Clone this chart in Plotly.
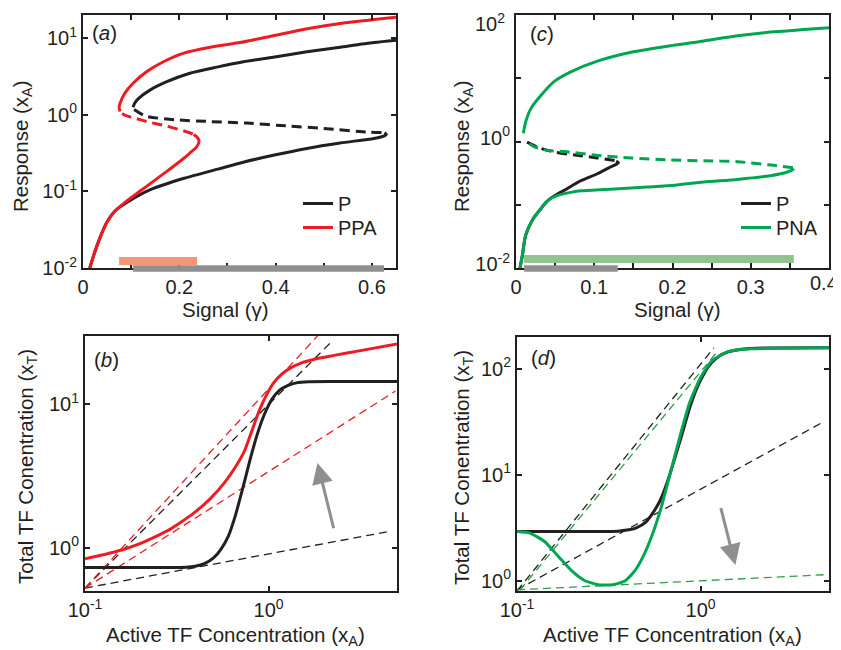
import plotly.graph_objects as go

# ---------------- Panel (a): Response vs Signal, P and PPA ----------------
a_P_lo_x = [0.014, 0.024, 0.035, 0.049, 0.066, 0.090, 0.140, 0.210, 0.280, 0.333, 0.395, 0.465, 0.534, 0.604, 0.626, 0.630, 0.626]
a_P_lo_y = [0.0100, 0.0158, 0.0245, 0.0389, 0.0550, 0.0708, 0.105, 0.148, 0.195, 0.240, 0.295, 0.363, 0.427, 0.490, 0.530, 0.556, 0.580]
a_P_mid_x = [0.620, 0.590, 0.500, 0.430, 0.340, 0.264, 0.190, 0.130, 0.105]
a_P_mid_y = [0.585, 0.594, 0.661, 0.708, 0.776, 0.813, 0.860, 0.960, 1.180]
a_P_hi_x = [0.104, 0.107, 0.115, 0.139, 0.174, 0.222, 0.278, 0.333, 0.395, 0.465, 0.534, 0.604, 0.650]
a_P_hi_y = [1.25, 1.40, 1.62, 2.09, 2.69, 3.47, 4.17, 4.90, 5.62, 6.61, 7.59, 8.71, 9.33]

a_PPA_lo_x = [0.014, 0.024, 0.035, 0.049, 0.066, 0.090, 0.118, 0.146, 0.174, 0.201, 0.222, 0.236, 0.241, 0.238, 0.230]
a_PPA_lo_y = [0.0100, 0.0158, 0.0245, 0.0389, 0.0550, 0.0741, 0.100, 0.135, 0.182, 0.245, 0.316, 0.380, 0.447, 0.500, 0.550]
a_PPA_mid_x = [0.228, 0.208, 0.174, 0.139, 0.104, 0.088, 0.080]
a_PPA_mid_y = [0.560, 0.617, 0.708, 0.794, 0.912, 0.980, 1.050]
a_PPA_hi_x = [0.077, 0.075, 0.077, 0.087, 0.104, 0.132, 0.167, 0.208, 0.264, 0.326, 0.395, 0.465, 0.534, 0.604, 0.650]
a_PPA_hi_y = [1.10, 1.25, 1.41, 1.91, 2.57, 3.63, 4.90, 6.31, 7.59, 8.71, 10.7, 13.2, 15.5, 17.4, 18.6]

a_bistable_PPA = [0.075, 0.237]
a_bistable_P = [0.104, 0.625]

# ---------------- Panel (c): Response vs Signal, P and PNA ----------------
c_P_lo_x = [0.0051, 0.0081, 0.0124, 0.021, 0.032, 0.038, 0.044, 0.053, 0.062, 0.083, 0.104, 0.121, 0.128, 0.131, 0.128]
c_P_lo_y = [0.0100, 0.0158, 0.0331, 0.0575, 0.0871, 0.108, 0.126, 0.148, 0.170, 0.240, 0.309, 0.398, 0.435, 0.460, 0.490]
c_P_mid_x = [0.126, 0.104, 0.080, 0.050, 0.030, 0.014]
c_P_mid_y = [0.500, 0.550, 0.600, 0.680, 0.790, 0.977]

c_PNA_lo_x = [0.0051, 0.0081, 0.0124, 0.021, 0.032, 0.038, 0.044, 0.050, 0.058, 0.070, 0.083, 0.126, 0.168, 0.203, 0.240, 0.283, 0.325, 0.345, 0.353, 0.355]
c_PNA_lo_y = [0.0100, 0.0158, 0.0331, 0.0575, 0.0871, 0.108, 0.124, 0.136, 0.146, 0.157, 0.166, 0.178, 0.191, 0.204, 0.229, 0.251, 0.288, 0.324, 0.355, 0.375]
c_PNA_mid_x = [0.354, 0.326, 0.283, 0.240, 0.198, 0.147, 0.104, 0.062, 0.040, 0.023, 0.014]
c_PNA_mid_y = [0.384, 0.424, 0.479, 0.496, 0.508, 0.550, 0.603, 0.692, 0.724, 0.832, 0.977]
c_PNA_hi_x = [0.0094, 0.0124, 0.019, 0.032, 0.049, 0.070, 0.104, 0.147, 0.200, 0.240, 0.283, 0.325, 0.368, 0.400]
c_PNA_hi_y = [1.35, 2.04, 3.31, 5.37, 8.91, 12.6, 18.6, 25.7, 33.1, 38.9, 46.8, 53.7, 58.9, 63.1]

c_bistable_PNA = [0.0103, 0.355]
c_bistable_P = [0.0103, 0.130]

# ---------------- Panel (b): Total vs Active TF, P and PPA ----------------
b_P_x = [0.1, 0.2512, 0.3548, 0.3981, 0.4467, 0.5012, 0.5495, 0.6026, 0.6607, 0.7244, 0.7943, 0.8710, 0.9550, 1.0471, 1.1482, 1.2589, 1.4125, 1.6596, 2.2387, 5.0]
b_P_y = [0.7278, 0.7278, 0.7328, 0.7447, 0.7762, 0.8511, 0.9772, 1.2023, 1.6982, 2.6303, 4.1687, 6.3096, 8.7096, 10.965, 12.589, 13.490, 14.125, 14.388, 14.421, 14.421]
b_PPA_x = [0.1, 0.1413, 0.1995, 0.2818, 0.3802, 0.4786, 0.5754, 0.6607, 0.7413, 0.8128, 0.8913, 0.9772, 1.0715, 1.1749, 1.3183, 1.5136, 1.7783, 2.2387, 3.1623, 5.0]
b_PPA_y = [0.8395, 0.9268, 1.0715, 1.3183, 1.6982, 2.1878, 2.8510, 3.6728, 4.7863, 6.6069, 9.1201, 11.749, 14.289, 16.218, 17.989, 19.498, 20.654, 21.878, 23.714, 26.424]
# asymptotes (start, end)
b_P_asym_low_x = [0.1, 4.52]
b_P_asym_low_y = [0.524, 1.30]
b_P_asym_high_x = [0.1, 2.22]
b_P_asym_high_y = [0.524, 27.7]
b_PPA_asym_low_x = [0.1, 4.91]
b_PPA_asym_low_y = [0.524, 12.4]
b_PPA_asym_high_x = [0.1, 1.845]
b_PPA_asym_high_y = [0.524, 30.0]

# ---------------- Panel (d): Total vs Active TF, P and PNA ----------------
d_P_x = [0.1, 0.2512, 0.3548, 0.3981, 0.4467, 0.5012, 0.5495, 0.6026, 0.6607, 0.7244, 0.7943, 0.8710, 0.9550, 1.0471, 1.1482, 1.2589, 1.4125, 1.6596, 2.2387, 5.0]
d_P_y = [2.911, 2.911, 2.938, 3.006, 3.162, 3.548, 4.365, 5.754, 8.710, 14.454, 24.547, 42.658, 66.069, 91.201, 114.82, 131.83, 144.54, 153.11, 157.40, 158.12]
d_PNA_x = [0.1, 0.1175, 0.1413, 0.1698, 0.1995, 0.2344, 0.2818, 0.3388, 0.3890, 0.4365, 0.4898, 0.5495, 0.6166, 0.6918, 0.7762, 0.8710, 1.0, 1.156, 1.422, 1.901, 5.0]
d_PNA_y = [2.911, 2.818, 2.344, 1.660, 1.230, 1.0, 0.912, 0.923, 1.0, 1.230, 1.738, 2.818, 5.248, 11.22, 23.99, 47.86, 83.18, 120.2, 146.2, 154.9, 158.1]
d_P_asym_low_x = [0.1, 4.74]
d_P_asym_low_y = [0.82, 32.1]
d_P_asym_high_x = [0.1, 1.18]
d_P_asym_high_y = [0.80, 158.0]
d_PNA_asym_low_x = [0.1, 4.74]
d_PNA_asym_low_y = [0.82, 1.14]
d_PNA_asym_high_x = [0.1035, 1.242]
d_PNA_asym_high_y = [0.813, 147.9]

# ---------------- styling ----------------
BLACK = "#231f20"
RED = "#ed1c24"
GREEN = "#00a651"
GREEN_D = "#2e9e48"
SALMON = "#f4967a"
LGREEN = "#8fc48c"
GRAY = "#8f8f8f"
FONT = "Liberation Sans, Arial, Helvetica, sans-serif"

# the page body adds an 8px offset; the figure is sized to fill the rest of the window
OFF = 8
W, H = 841 - OFF, 650 - OFF


def fx(px):
    return (px - OFF) / W


def fy(py):
    return 1 - (py - OFF) / H


fig = go.Figure()


def add(x, y, color, ax, width=3, dash=None, name=None, legend=None, smooth=0.7):
    fig.add_trace(go.Scatter(
        x=x, y=y, mode="lines",
        line=dict(color=color, width=width, dash=dash, shape="spline", smoothing=smooth),
        xaxis="x" + ax, yaxis="y" + ax,
        name=name or "curve", showlegend=name is not None,
        legend=legend, hoverinfo="skip",
    ))


THICK_DASH = "10px,6px"
THIN_DASH = "8px,5px"

# panel (a)
add(a_P_lo_x, a_P_lo_y, BLACK, "", name="P", legend="legend")
add(a_P_mid_x, a_P_mid_y, BLACK, "", dash=THICK_DASH)
add(a_P_hi_x, a_P_hi_y, BLACK, "")
add(a_PPA_lo_x, a_PPA_lo_y, RED, "", name="PPA", legend="legend3")
add(a_PPA_mid_x, a_PPA_mid_y, RED, "", dash=THICK_DASH)
add(a_PPA_hi_x, a_PPA_hi_y, RED, "")

# panel (c)
add(c_P_lo_x, c_P_lo_y, BLACK, "2", name="P", legend="legend2")
add(c_P_mid_x, c_P_mid_y, BLACK, "2", dash=THICK_DASH)
add(c_PNA_lo_x, c_PNA_lo_y, GREEN, "2", name="PNA", legend="legend4")
add(c_PNA_mid_x, c_PNA_mid_y, GREEN, "2", dash=THICK_DASH)
add(c_PNA_hi_x, c_PNA_hi_y, GREEN, "2")

# panel (b)
add(b_P_asym_low_x, b_P_asym_low_y, BLACK, "3", width=1.3, dash=THIN_DASH)
add(b_P_asym_high_x, b_P_asym_high_y, BLACK, "3", width=1.3, dash=THIN_DASH)
add(b_PPA_asym_low_x, b_PPA_asym_low_y, RED, "3", width=1.3, dash=THIN_DASH)
add(b_PPA_asym_high_x, b_PPA_asym_high_y, RED, "3", width=1.3, dash=THIN_DASH)
add(b_P_x, b_P_y, BLACK, "3", smooth=0.5)
add(b_PPA_x, b_PPA_y, RED, "3", smooth=0.5)

# panel (d)
add(d_P_asym_low_x, d_P_asym_low_y, BLACK, "4", width=1.3, dash=THIN_DASH)
add(d_P_asym_high_x, d_P_asym_high_y, BLACK, "4", width=1.3, dash=THIN_DASH)
add(d_PNA_asym_low_x, d_PNA_asym_low_y, GREEN_D, "4", width=1.3, dash=THIN_DASH)
add(d_PNA_asym_high_x, d_PNA_asym_high_y, GREEN_D, "4", width=1.3, dash=THIN_DASH)
add(d_P_x, d_P_y, BLACK, "4", smooth=0.5)
add(d_PNA_x, d_PNA_y, GREEN, "4", smooth=0.5)


def sup(e):
    return "10<sup>%s</sup>" % e


axis_common = dict(
    showline=True, linecolor=BLACK, linewidth=2, mirror="ticks",
    ticks="inside", ticklen=5, tickwidth=1.5, tickcolor=BLACK,
    showgrid=False, zeroline=False, automargin=False, ticklabeloverflow="allow",
    tickfont=dict(family=FONT, size=20, color=BLACK),
)


def minor(vals):
    return dict(tickvals=vals, ticks="inside", ticklen=5, tickwidth=1.5, tickcolor=BLACK, showgrid=False)


layout = dict(
    width=W, height=H, margin=dict(l=0, r=0, t=0, b=0),
    paper_bgcolor="white", plot_bgcolor="white",
    font=dict(family=FONT, size=20, color=BLACK),
    template="none",
)

layout["xaxis"] = dict(axis_common, domain=[fx(83), fx(396)], anchor="y", range=[0, 0.65],
                       tickvals=[0, 0.2, 0.4, 0.6], ticktext=["0", "0.2", "0.4", "0.6"],
                       minor=minor([0.1, 0.3, 0.5]))
layout["yaxis"] = dict(axis_common, domain=[fy(268), fy(15)], anchor="x", type="log", range=[-2, 1.3],
                       tickvals=[0.01, 0.1, 1, 10], ticktext=[sup("-2"), sup("-1"), sup("0"), sup("1")])
# panel (c): the edge labels "0.4" and "10^2" are written as annotations so they stay inside the page
layout["xaxis2"] = dict(axis_common, domain=[fx(516), fx(829)], anchor="y2", range=[0, 0.4],
                        tickvals=[0, 0.1, 0.2, 0.3], ticktext=["0", "0.1", "0.2", "0.3"],
                        minor=minor([0.05, 0.15, 0.25, 0.35, 0.4]))
layout["yaxis2"] = dict(axis_common, domain=[fy(268), fy(15)], anchor="x2", type="log", range=[-2, 2],
                        tickvals=[0.01, 1], ticktext=[sup("-2"), sup("0")], ticklabelshift=-4,
                        minor=minor([0.1, 10, 100]))
layout["xaxis3"] = dict(axis_common, domain=[fx(85), fx(397)], anchor="y3", type="log", range=[-1, 0.699],
                        tickvals=[0.1, 1], ticktext=[sup("-1"), sup("0")])
layout["yaxis3"] = dict(axis_common, domain=[fy(591), fy(336)], anchor="x3", type="log", range=[-0.301, 1.477],
                        tickvals=[1, 10], ticktext=[sup("0"), sup("1")])
layout["xaxis4"] = dict(axis_common, domain=[fx(517), fx(829)], anchor="y4", type="log", range=[-1, 0.699],
                        tickvals=[0.1, 1], ticktext=[sup("-1"), sup("0")])
layout["yaxis4"] = dict(axis_common, domain=[fy(591), fy(337)], anchor="x4", type="log", range=[-0.097, 2.301],
                        tickvals=[1, 10, 100], ticktext=[sup("0"), sup("1"), sup("2")])

legend_common = dict(bgcolor="rgba(0,0,0,0)", borderwidth=0, font=dict(family=FONT, size=20, color=BLACK),
                     xanchor="left", yanchor="top", itemwidth=30, tracegroupgap=0)
layout["legend"] = dict(legend_common, x=fx(298), y=fy(184))
layout["legend3"] = dict(legend_common, x=fx(298), y=fy(208))
layout["legend2"] = dict(legend_common, x=fx(736), y=fy(184))
layout["legend4"] = dict(legend_common, x=fx(736), y=fy(208))

fig.update_layout(**layout)

# bistability range bars
bars = [
    (a_bistable_PPA, "x", 261, SALMON, 8),
    (a_bistable_P, "x", 268.5, GRAY, 6.5),
    (c_bistable_PNA, "x2", 259, LGREEN, 8),
    (c_bistable_P, "x2", 268.5, GRAY, 6.5),
]
for rng, xr, py, col, lw in bars:
    fig.add_shape(type="line", xref=xr, yref="paper", x0=rng[0], x1=rng[1],
                  y0=fy(py), y1=fy(py), line=dict(color=col, width=lw), layer="above")

ann = []
TFONT = dict(family=FONT, size=20.5, color=BLACK)
ann.append(dict(text="Response (x<sub>A</sub>)", x=fx(22), y=fy(146), textangle=-90))
ann.append(dict(text="Response (x<sub>A</sub>)", x=fx(463), y=fy(146), textangle=-90))
ann.append(dict(text="Signal (γ)", x=fx(225), y=fy(309)))
ann.append(dict(text="Signal (γ)", x=fx(677), y=fy(309)))
ann.append(dict(text="Total TF Conentration (x<sub>T</sub>)", x=fx(27), y=fy(467), textangle=-90))
ann.append(dict(text="Total TF Conentration (x<sub>T</sub>)", x=fx(463), y=fy(467), textangle=-90))
ann.append(dict(text="Active TF Concentration (x<sub>A</sub>)", x=fx(235), y=fy(636)))
ann.append(dict(text="Active TF Concentration (x<sub>A</sub>)", x=fx(672), y=fy(636)))
ann.append(dict(text="(<i>a</i>)", x=fx(104.5), y=fy(32.5)))
ann.append(dict(text="(<i>c</i>)", x=fx(541.7), y=fy(33.3)))
ann.append(dict(text="(<i>b</i>)", x=fx(106.7), y=fy(360)))
ann.append(dict(text="(<i>d</i>)", x=fx(543), y=fy(358)))
for a in ann:
    a.update(xref="paper", yref="paper", showarrow=False, font=TFONT, xanchor="center", yanchor="middle")

TICKFONT = dict(family=FONT, size=20, color=BLACK)
ann.append(dict(text="0.4", xref="paper", yref="paper", x=fx(840), y=fy(283), xanchor="right", yanchor="middle",
                showarrow=False, font=TICKFONT))
ann.append(dict(text="10<sup>2</sup>", xref="paper", yref="paper", x=fx(507), y=fy(8), xanchor="right", yanchor="top",
                showarrow=False, font=TICKFONT))

ann.append(dict(xref="x3", yref="y3", axref="x3", ayref="y3", x=0.266, y=0.592, ax=0.356, ay=0.126,
                text="", showarrow=True, arrowhead=2, arrowsize=1.4, arrowwidth=3, arrowcolor=GRAY, standoff=0))
ann.append(dict(xref="x4", yref="y4", axref="x4", ayref="y4", x=0.189, y=0.148, ax=0.108, ay=0.700,
                text="", showarrow=True, arrowhead=2, arrowsize=1.4, arrowwidth=3, arrowcolor=GRAY, standoff=0))
fig.update_layout(annotations=ann)

fig.write_html("out.html")
